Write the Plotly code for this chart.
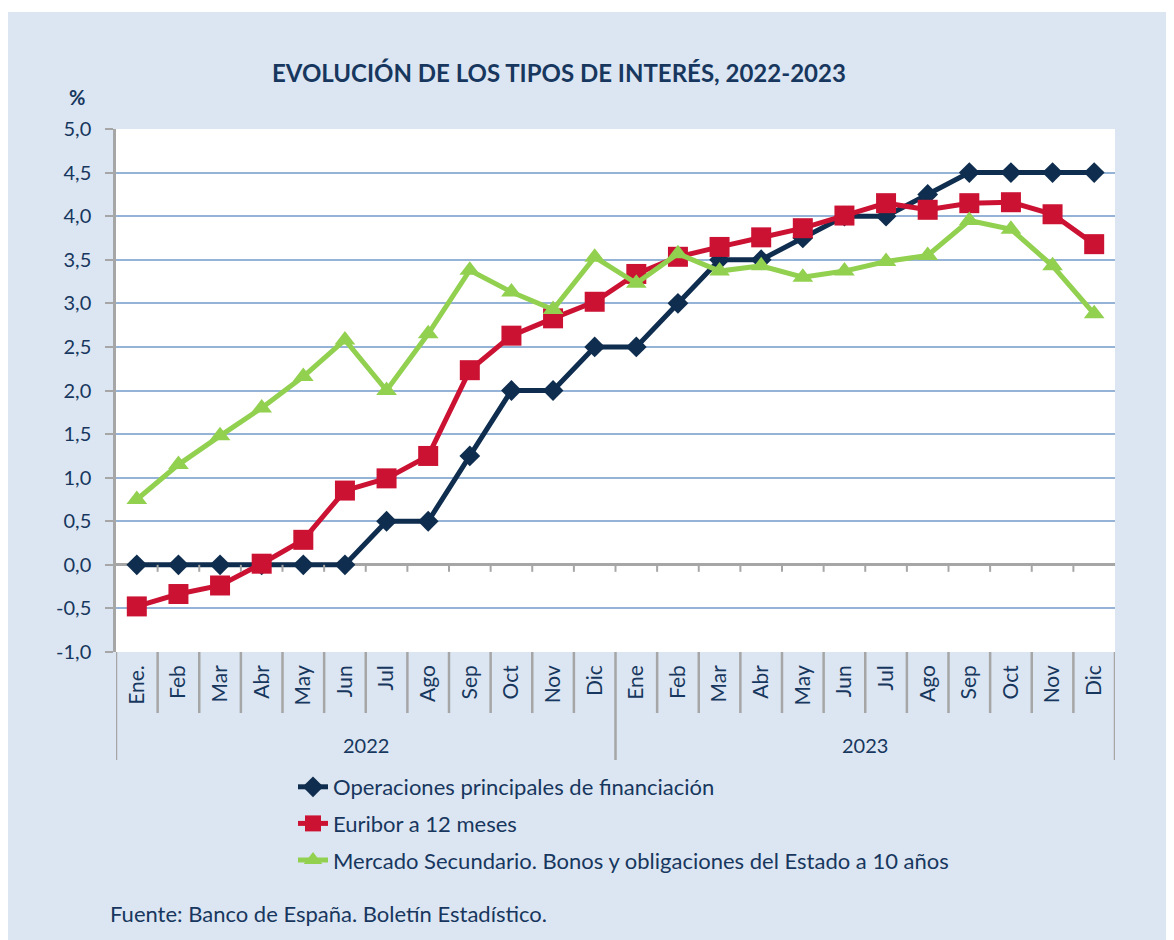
import plotly.graph_objects as go

months_2022 = ["Ene.", "Feb", "Mar", "Abr", "May", "Jun", "Jul", "Ago", "Sep", "Oct", "Nov", "Dic"]
months_2023 = ["Ene", "Feb", "Mar", "Abr", "May", "Jun", "Jul", "Ago", "Sep", "Oct", "Nov", "Dic"]
years = ["2022", "2023"]

operaciones = [0, 0, 0, 0, 0, 0, 0.5, 0.5, 1.25, 2.0, 2.0, 2.5,
               2.5, 3.0, 3.5, 3.5, 3.75, 4.0, 4.0, 4.25, 4.5, 4.5, 4.5, 4.5]
euribor = [-0.477, -0.335, -0.237, 0.013, 0.287, 0.852, 0.992, 1.249, 2.233, 2.629, 2.828, 3.018,
           3.337, 3.534, 3.647, 3.757, 3.862, 4.007, 4.149, 4.073, 4.149, 4.160, 4.022, 3.679]
bonos = [0.75, 1.15, 1.48, 1.80, 2.16, 2.58, 2.0, 2.65, 3.38, 3.13, 2.93, 3.53,
         3.23, 3.57, 3.37, 3.43, 3.30, 3.37, 3.48, 3.55, 3.95, 3.85, 3.43, 2.88]

labels = months_2022 + months_2023
xs = list(range(len(labels)))

NAVY = "#0f2d4e"
RED = "#cc1233"
GREEN = "#92d050"
TXT = "#17375e"
BG = "#dce6f2"
GRID = "#95b3d7"
AXG = "#a6a6a6"
FONT = "Lato"

# page is offset by the 8px body margin
OFF = 8
W, H = 1166, 932
L, R, T, B = 108, 59, 121, 288
PW, PH = W - L - R, H - T - B

def px(xp):
    return (xp - OFF - L) / PW

def py(yp):
    return (H - B - (yp - OFF)) / PH

fig = go.Figure()
fig.add_trace(go.Scatter(x=xs, y=operaciones, mode="lines+markers",
                         name="Operaciones principales de financiación",
                         line=dict(color=NAVY, width=5),
                         marker=dict(symbol="diamond", size=16, color=NAVY),
                         legendgroup="a"))
fig.add_trace(go.Scatter(x=xs, y=euribor, mode="lines+markers",
                         name="Euribor a 12 meses",
                         line=dict(color=RED, width=5),
                         marker=dict(symbol="square", size=20, color=RED),
                         legendgroup="b"))
fig.add_trace(go.Scatter(x=xs, y=bonos, mode="lines+markers",
                         name="Mercado Secundario. Bonos y obligaciones del Estado a 10 años",
                         line=dict(color=GREEN, width=5),
                         marker=dict(symbol="triangle-up", size=18, color=GREEN),
                         legendgroup="c"))

shapes = []
n = len(labels)
for i in range(n + 1):
    xv = i - 0.5
    is_year = (i % 12 == 0)
    shapes.append(dict(type="line", xref="x", yref="paper", x0=xv, x1=xv,
                       y0=0, y1=py(760) if is_year else py(713),
                       line=dict(color=AXG, width=2.5), layer="above"))
    if 0 < i < n:
        shapes.append(dict(type="line", xref="x", yref="y", x0=xv, x1=xv,
                           y0=0, y1=-0.08, line=dict(color=AXG, width=2), layer="above"))
# thin white strip at top (blue panel starts a bit lower)
shapes.append(dict(type="rect", xref="paper", yref="paper", x0=px(0), x1=px(1200),
                   y0=py(12), y1=py(OFF), fillcolor="white", line=dict(width=0), layer="below"))

annotations = [
    dict(text="<b>EVOLUCIÓN DE LOS TIPOS DE INTERÉS, 2022-2023</b>", xref="paper", yref="paper",
         x=px(559), y=py(72), xanchor="center", yanchor="middle", showarrow=False,
         font=dict(family=FONT, size=24, color=TXT)),
    dict(text="<b>%</b>", xref="paper", yref="paper", x=px(77), y=py(97),
         xanchor="center", yanchor="middle", showarrow=False,
         font=dict(family=FONT, size=20, color=TXT)),
    dict(text="Fuente: Banco de España. Boletín Estadístico.", xref="paper", yref="paper",
         x=px(108), y=py(913), xanchor="left", yanchor="middle", showarrow=False,
         font=dict(family=FONT, size=22, color=TXT)),
]
for k, yr in enumerate(years):
    annotations.append(dict(text=yr, xref="x", yref="paper", x=k * 12 + 5.5, y=py(745),
                            xanchor="center", yanchor="middle", showarrow=False,
                            font=dict(family=FONT, size=20, color=TXT)))

yticks = [v / 2 for v in range(-2, 11)]
ytext = [f"{v:.1f}".replace(".", ",") for v in yticks]

fig.update_layout(
    width=W, height=H,
    margin=dict(l=L, r=R, t=T, b=B, pad=0),
    paper_bgcolor=BG, plot_bgcolor="white",
    separators=",.",
    font=dict(family=FONT, color=TXT),
    showlegend=True,
    legend=dict(x=px(293), y=py(766), xanchor="left", yanchor="top",
                bgcolor="rgba(0,0,0,0)", borderwidth=0,
                font=dict(family=FONT, size=22, color=TXT),
                traceorder="grouped", tracegroupgap=5),
    xaxis=dict(range=[-0.5, n - 0.5], tickvals=xs, ticktext=labels, tickangle=-90,
               showgrid=False, zeroline=False, showline=False, ticks="",
               tickfont=dict(family=FONT, size=21, color=TXT), ticklabelstandoff=8,
               fixedrange=True),
    yaxis=dict(range=[-1.0, 5.0], tickvals=yticks, ticktext=ytext,
               showgrid=True, gridcolor=GRID, gridwidth=2,
               zeroline=True, zerolinecolor=AXG, zerolinewidth=2.5,
               showline=True, linecolor=AXG, linewidth=2.5,
               ticks="outside", ticklen=8, tickcolor=AXG, tickwidth=2,
               tickfont=dict(family=FONT, size=20, color=TXT), ticklabelstandoff=10,
               fixedrange=True),
    shapes=shapes,
    annotations=annotations,
)

fig.write_html("out.html")
